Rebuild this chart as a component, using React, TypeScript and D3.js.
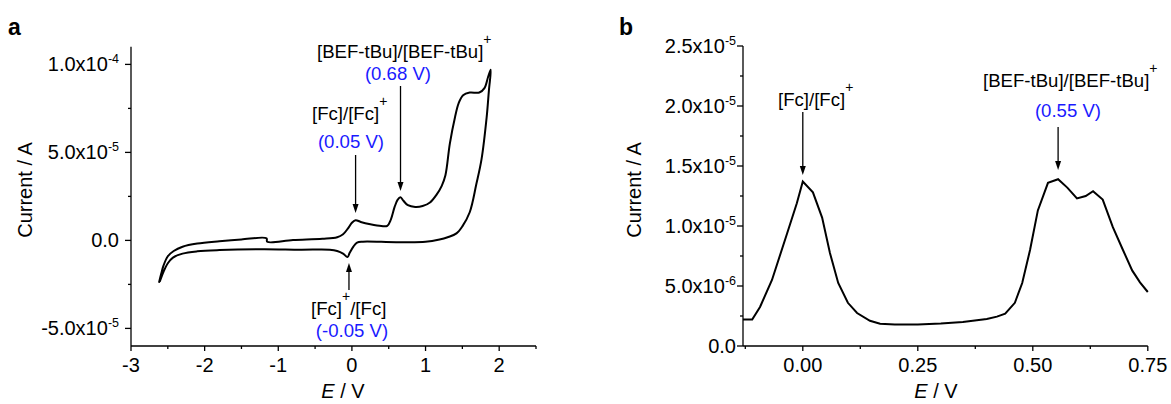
import React from 'react'
import { scaleLinear, line, curveCatmullRom, curveLinear } from 'd3'

// panel a: cyclic voltammogram (forward scan then reverse scan)
const cvPotential = [
	-2.62, -2.59, -2.56, -2.5, -2.42, -2.3, -2.1, -1.8, -1.5, -1.16, -1.15, -0.8, -0.4, -0.2, -0.12,
	-0.05, 0.0, 0.05, 0.12, 0.25, 0.4, 0.48, 0.53, 0.58, 0.62, 0.66, 0.7, 0.76, 0.86, 0.96, 1.06,
	1.15, 1.22, 1.27, 1.33, 1.4, 1.45, 1.51, 1.6, 1.73, 1.8, 1.85, 1.885,
	1.86, 1.83, 1.76, 1.69, 1.6, 1.5, 1.42, 1.3, 1.19, 1.0, 0.6, 0.15, 0.07, 0.02, -0.03, -0.06,
	-0.12, -0.2, -0.3, -0.7, -1.2, -1.8, -2.1, -2.3, -2.43, -2.5, -2.56, -2.61,
]
const cvCurrent = [
	-2.4e-5, -1.9e-5, -1.45e-5, -9e-6, -6e-6, -3.6e-6, -1.8e-6, -0.5e-6, 0.5e-6, 1.2e-6, -0.8e-6,
	0.2e-6, 0.9e-6, 1.8e-6, 3.5e-6, 7e-6, 1.0e-5, 1.15e-5, 1.05e-5, 9.2e-6, 8.2e-6, 8.3e-6, 1.2e-5,
	1.9e-5, 2.3e-5, 2.45e-5, 2.25e-5, 2.0e-5, 1.9e-5, 1.95e-5, 2.15e-5, 2.6e-5, 3.1e-5, 3.7e-5,
	5.5e-5, 7.0e-5, 7.8e-5, 8.25e-5, 8.4e-5, 8.4e-5, 8.65e-5, 9.3e-5, 9.7e-5,
	8.5e-5, 7e-5, 4.6e-5, 3.2e-5, 1.6e-5, 8e-6, 4e-6, 1.8e-6, 0.5e-6, -0.8e-6, -1.0e-6, -0.7e-6,
	-1.2e-6, -3.5e-6, -7e-6, -9.5e-6, -7.5e-6, -6e-6, -5.3e-6, -5.3e-6, -5e-6, -5.5e-6, -6.2e-6,
	-7.5e-6, -9.8e-6, -1.3e-5, -1.8e-5, -2.35e-5,
]

// panel b: differential pulse voltammogram
const dpvPotential = [
	-0.13, -0.11, -0.093, -0.067, -0.034, -0.013, 0.0, 0.022, 0.042, 0.059, 0.077, 0.098, 0.118,
	0.146, 0.168, 0.2, 0.25, 0.3, 0.348, 0.4, 0.422, 0.44, 0.461, 0.477, 0.494, 0.511, 0.533, 0.555,
	0.575, 0.596, 0.615, 0.631, 0.652, 0.674, 0.696, 0.716, 0.733, 0.75,
]
const dpvCurrent = [
	2.2e-6, 2.2e-6, 3.25e-6, 5.5e-6, 9.4e-6, 1.19e-5, 1.37e-5, 1.28e-5, 1.07e-5, 7.75e-6, 5.25e-6,
	3.6e-6, 2.75e-6, 2.1e-6, 1.85e-6, 1.8e-6, 1.8e-6, 1.88e-6, 2.0e-6, 2.25e-6, 2.45e-6, 2.7e-6,
	3.6e-6, 5.25e-6, 8e-6, 1.13e-5, 1.36e-5, 1.39e-5, 1.32e-5, 1.23e-5, 1.25e-5, 1.29e-5, 1.22e-5,
	9.9e-6, 8.0e-6, 6.3e-6, 5.3e-6, 4.5e-6,
]

const cvXTicks = [-3, -2, -1, 0, 1, 2]
const cvXMinor = [-2.5, -1.5, -0.5, 0.5, 1.5, 2.5]
const cvYTicks = [-5e-5, 0, 5e-5, 1e-4]
const cvYLabels = ['-5.0x10', '0.0', '5.0x10', '1.0x10']
const cvYExps = ['-5', '', '-5', '-4']
const cvYMinor = [-2.5e-5, 2.5e-5, 7.5e-5]

const dpvXTicks = [0, 0.25, 0.5, 0.75]
const dpvXLabels = ['0.00', '0.25', '0.50', '0.75']
const dpvXMinor = [-0.125, 0.125, 0.375, 0.625]
const dpvYTicks = [0, 5e-6, 1e-5, 1.5e-5, 2e-5, 2.5e-5]
const dpvYLabels = ['0.0', '5.0x10', '1.0x10', '1.5x10', '2.0x10', '2.5x10']
const dpvYExps = ['', '-6', '-5', '-5', '-5', '-5']
const dpvYMinor = [2.5e-6, 7.5e-6, 1.25e-5, 1.75e-5, 2.25e-5]

const FONT = '"Liberation Sans", Arial, sans-serif'
const BLUE = '#1a1aff'

function Arrow({ x, y1, y2 }) {
	// line from y1 to tip at y2, head drawn at the tip
	const dir = y2 > y1 ? 1 : -1
	const h = 9
	return (
		<g>
			<line x1={x} x2={x} y1={y1} y2={y2 - dir * h} stroke="#000" strokeWidth={1.3} />
			<path d={`M${x},${y2} L${x - 3},${y2 - dir * h} L${x + 3},${y2 - dir * h} Z`} fill="#000" />
		</g>
	)
}

function Axes({ x, y, xTicks, xLabels, xMinor, yTicks, yLabels, yExps, yMinor, yGap }) {
	const [x0, x1] = x.range()
	const [y0, y1] = y.range()
	return (
		<g fontFamily={FONT} fill="#000">
			<line x1={x0} x2={x1} y1={y0} y2={y0} stroke="#000" strokeWidth={1.3} />
			<line x1={x0} x2={x0} y1={y0} y2={y1} stroke="#000" strokeWidth={1.3} />
			{xTicks.map((t, i) => (
				<g key={'xt' + i}>
					<line x1={x(t)} x2={x(t)} y1={y0} y2={y0 + 5} stroke="#000" strokeWidth={1.3} />
					<text x={x(t)} y={y0 + 26} textAnchor="middle" fontSize={20}>
						{xLabels[i]}
					</text>
				</g>
			))}
			{xMinor.map((t, i) => (
				<line key={'xm' + i} x1={x(t)} x2={x(t)} y1={y0} y2={y0 + 3} stroke="#000" strokeWidth={1.3} />
			))}
			{yTicks.map((t, i) => (
				<g key={'yt' + i}>
					<line x1={x0 - 6} x2={x0} y1={y(t)} y2={y(t)} stroke="#000" strokeWidth={1.3} />
					<text x={x0 - yGap} y={y(t)} dy="0.35em" textAnchor="end" fontSize={20}>
						{yLabels[i]}
						{yExps[i] && (
							<tspan dy={-8} fontSize={12.5}>
								{yExps[i]}
							</tspan>
						)}
					</text>
				</g>
			))}
			{yMinor.map((t, i) => (
				<line key={'ym' + i} x1={x0 - 3} x2={x0} y1={y(t)} y2={y(t)} stroke="#000" strokeWidth={1.3} />
			))}
		</g>
	)
}

export default function App() {
	const xA = scaleLinear().domain([-3, 2.5]).range([131, 536])
	const yA = scaleLinear().domain([-6e-5, 1.1e-4]).range([346, 46.8])
	const xB = scaleLinear().domain([-0.13, 0.75]).range([743, 1147.8])
	const yB = scaleLinear().domain([0, 2.5e-5]).range([346, 46])

	const cvLine = line()
		.x((d) => xA(d[0]))
		.y((d) => yA(d[1]))
		.curve(curveCatmullRom.alpha(0.5))
	const dpvLine = line()
		.x((d) => xB(d[0]))
		.y((d) => yB(d[1]))
		.curve(curveLinear)

	const cvData = cvPotential.map((v, i) => [v, cvCurrent[i]])
	const dpvData = dpvPotential.map((v, i) => [v, dpvCurrent[i]])

	return (
		<svg
			width={1171}
			height={404}
			style={{ position: 'absolute', left: 0, top: 0, background: '#fff' }}
			fontFamily={FONT}
		>
			{/* panel a */}
			<text x={8} y={35} fontSize={23} fontWeight="bold">a</text>
			<Axes
				x={xA}
				y={yA}
				xTicks={cvXTicks}
				xLabels={cvXTicks.map(String)}
				xMinor={cvXMinor}
				yTicks={cvYTicks}
				yLabels={cvYLabels}
				yExps={cvYExps}
				yMinor={cvYMinor}
				yGap={12}
			/>
			<path d={cvLine(cvData)} fill="none" stroke="#000" strokeWidth={2} />
			<text transform="translate(32,190) rotate(-90)" textAnchor="middle" fontSize={20}>
				Current / A
			</text>
			<text x={343} y={398} textAnchor="middle" fontSize={20}>
				<tspan fontStyle="italic">E</tspan> / V
			</text>

			<text x={317} y={58} fontSize={18.6}>
				[BEF-tBu]/[BEF-tBu]<tspan dy={-14} fontSize={14}>+</tspan>
			</text>
			<text x={398} y={80} textAnchor="middle" fontSize={18.6} fill={BLUE}>(0.68 V)</text>
			<Arrow x={xA(0.66)} y1={86} y2={191} />

			<text x={312} y={120} fontSize={18.6}>
				[Fc]/[Fc]<tspan dy={-14} fontSize={14}>+</tspan>
			</text>
			<text x={351} y={148} textAnchor="middle" fontSize={18.6} fill={BLUE}>(0.05 V)</text>
			<Arrow x={xA(0.05)} y1={155} y2={213} />

			<Arrow x={xA(-0.04)} y1={290} y2={263} />
			<text x={311} y={315} fontSize={18.6}>
				[Fc]<tspan dy={-14} fontSize={14}>+</tspan>
				<tspan dy={14}>/[Fc]</tspan>
			</text>
			<text x={352} y={337} textAnchor="middle" fontSize={18.6} fill={BLUE}>(-0.05 V)</text>

			{/* panel b */}
			<text x={619} y={35} fontSize={23} fontWeight="bold">b</text>
			<Axes
				x={xB}
				y={yB}
				xTicks={dpvXTicks}
				xLabels={dpvXLabels}
				xMinor={dpvXMinor}
				yTicks={dpvYTicks}
				yLabels={dpvYLabels}
				yExps={dpvYExps}
				yMinor={dpvYMinor}
				yGap={7}
			/>
			<path d={dpvLine(dpvData)} fill="none" stroke="#000" strokeWidth={2} />
			<text transform="translate(641,190) rotate(-90)" textAnchor="middle" fontSize={20}>
				Current / A
			</text>
			<text x={936} y={398} textAnchor="middle" fontSize={20}>
				<tspan fontStyle="italic">E</tspan> / V
			</text>

			<text x={778} y={106} fontSize={18.6}>
				[Fc]/[Fc]<tspan dy={-14} fontSize={14}>+</tspan>
			</text>
			<Arrow x={xB(0)} y1={112} y2={175} />

			<text x={983} y={87} fontSize={18.6}>
				[BEF-tBu]/[BEF-tBu]<tspan dy={-14} fontSize={14}>+</tspan>
			</text>
			<text x={1068} y={117} textAnchor="middle" fontSize={18.6} fill={BLUE}>(0.55 V)</text>
			<Arrow x={xB(0.555)} y1={127} y2={170} />
		</svg>
	)
}
